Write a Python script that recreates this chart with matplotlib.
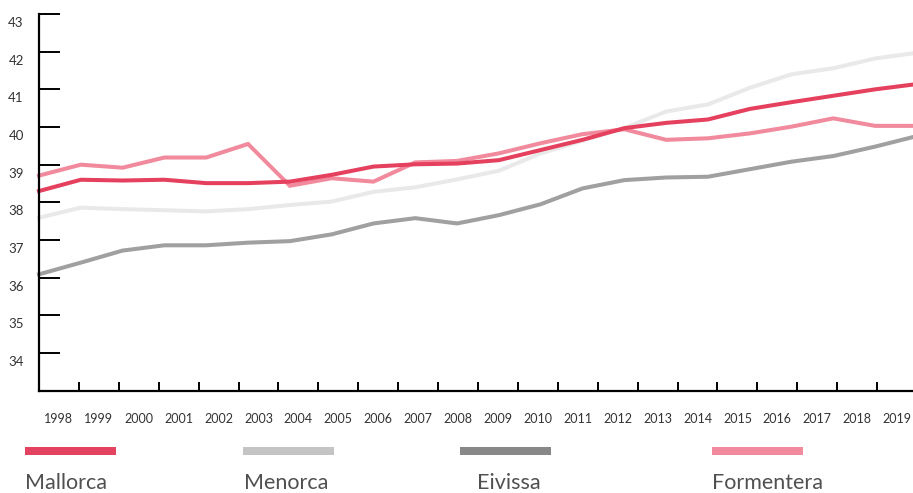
import matplotlib
matplotlib.use("Agg")
import matplotlib.pyplot as plt
from matplotlib.transforms import ScaledTranslation
from matplotlib.patches import Rectangle

plt.rcParams['font.family'] = ['Lato', 'DejaVu Sans']

# data
years = list(range(1998, 2020))
mallorca = [38.30, 38.60, 38.58, 38.60, 38.51, 38.51, 38.55, 38.73, 38.95, 39.01, 39.03,
            39.12, 39.39, 39.66, 39.97, 40.11, 40.20, 40.48, 40.66, 40.83, 41.00, 41.14]
menorca = [37.59, 37.86, 37.82, 37.79, 37.76, 37.82, 37.93, 38.02, 38.28, 38.40, 38.61,
           38.84, 39.30, 39.64, 39.97, 40.41, 40.60, 41.04, 41.40, 41.56, 41.82, 41.97]
eivissa = [36.09, 36.40, 36.72, 36.86, 36.86, 36.93, 36.97, 37.15, 37.44, 37.58, 37.44,
           37.66, 37.95, 38.37, 38.59, 38.66, 38.68, 38.88, 39.08, 39.23, 39.48, 39.76]
formentera = [38.71, 39.00, 38.92, 39.19, 39.19, 39.55, 38.44, 38.64, 38.55, 39.06, 39.10,
              39.30, 39.57, 39.81, 39.94, 39.66, 39.70, 39.83, 40.01, 40.23, 40.03, 40.03]
y_ticks = list(range(33, 44))

# (name, series, line colour, legend colour, bar left px, text left px)
series = [
    ("Menorca", menorca, "#E9E9E9", "#C4C4C4", 243, 244),
    ("Eivissa", eivissa, "#A0A0A0", "#888888", 460, 477),
    ("Formentera", formentera, "#F08A9C", "#F08A9C", 712, 712),
    ("Mallorca", mallorca, "#E5405E", "#E34260", 25, 25),
]

W, H = 913, 493
fig = plt.figure(figsize=(W / 100, H / 100), dpi=100)
ax = fig.add_axes([39 / W, (H - 390.7) / H, (917 - 39) / W, (390.7 - 14) / H])

n = len(years)
xs = list(range(n))
for name, vals, col, _, _, _ in series:
    ax.plot(xs, vals, color=col, lw=2.9, solid_joinstyle='miter', clip_on=False)

ax.set_xlim(0, n - 1)
ax.set_ylim(33, 43)

# category bands: ticks at band edges, labels at band centres
band = (n - 1) / n
ax.set_xticks([k * band for k in range(n + 1)])
ax.set_xticklabels([])
ax.set_xticks([(k + 0.5) * band for k in range(n)], minor=True)
ax.set_xticklabels([str(y) for y in years], minor=True)
ax.tick_params(axis='x', which='major', direction='in', length=6.5, width=1.4, color='black')
ax.tick_params(axis='x', which='minor', length=0, pad=16, labelsize=9, labelcolor='#333333')

ax.set_yticks(y_ticks)
ax.set_yticklabels(['' if v == 33 else str(v) for v in y_ticks])
ax.tick_params(axis='y', direction='in', length=15, width=1.4, color='black',
               pad=11, labelsize=9.5, labelcolor='#333333')
shift = ScaledTranslation(0, -0.08, fig.dpi_scale_trans)
for lab in ax.get_yticklabels():
    lab.set_transform(lab.get_transform() + shift)

for side in ('top', 'right'):
    ax.spines[side].set_visible(False)
for side in ('left', 'bottom'):
    ax.spines[side].set_linewidth(1.6)
    ax.spines[side].set_color('black')

# legend drawn by hand below the axis
for name, vals, col, lcol, bx, tx in series:
    fig.patches.append(Rectangle((bx / W, (H - 455.3) / H), 91 / W, 8 / H,
                                 transform=fig.transFigure, color=lcol, lw=0))
    fig.text(tx / W, (H - 489) / H, name, fontsize=15.5, color='#505050',
             va='baseline', ha='left')

fig.savefig("out.png", dpi=100)
